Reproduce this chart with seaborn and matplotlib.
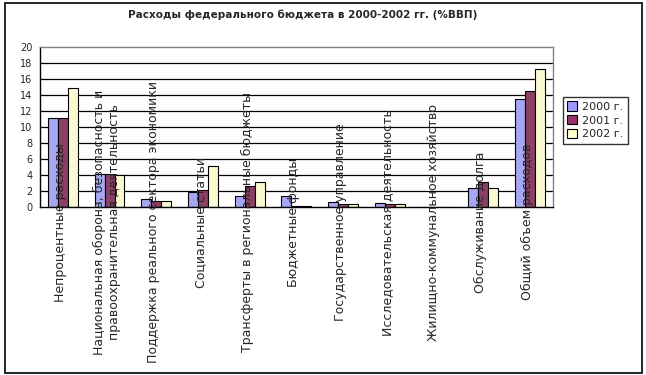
import pandas as pd
import seaborn as sns
import matplotlib.pyplot as plt
from matplotlib.patches import Rectangle

categories = [
    "Непроцентные расходы",
    "Национальная оборона, безопасность и\nправоохранительная деятельность",
    "Поддержка реального сектора экономики",
    "Социальные статьи",
    "Трансферты в региональные бюджеты",
    "Бюджетные фонды",
    "Государственное управление",
    "Исследовательская деятельность",
    "Жилищно-коммунальное хозяйство",
    "Обслуживание долга",
    "Общий объем расходов",
]
years = ["2000 г.", "2001 г.", "2002 г."]
v2000 = [11.1, 4.1, 1.0, 1.9, 1.35, 1.35, 0.6, 0.5, 0.0, 2.4, 13.5]
v2001 = [11.1, 4.1, 0.8, 2.1, 2.6, 0.1, 0.4, 0.4, 0.0, 3.1, 14.5]
v2002 = [14.9, 4.0, 0.8, 5.1, 3.1, 0.1, 0.4, 0.4, 0.0, 2.4, 17.3]
colors = ["#9999FF", "#993366", "#FFFFCC"]

df = pd.DataFrame({
    "cat": categories * 3,
    "year": [years[0]] * 11 + [years[1]] * 11 + [years[2]] * 11,
    "val": v2000 + v2001 + v2002,
})

sns.set_style("white")
plt.rcParams['font.family'] = ['DejaVu Sans']

fig = plt.figure(figsize=(6.46, 3.75), dpi=100)
ax = fig.add_axes([39.5 / 646, 1 - 207 / 375, (553 - 39.5) / 646, 160 / 375])

sns.barplot(data=df, x="cat", y="val", hue="year", palette=colors,
            width=0.64, edgecolor="black", linewidth=0.8, ax=ax, legend=True)

ax.set_ylim(0, 20)
ax.set_xlim(-0.5, 10.5)
ax.set_yticks(range(0, 21, 2))
for y in range(2, 20, 2):
    ax.axhline(y, color="black", linewidth=0.9, zorder=0)
ax.set_axisbelow(True)

for s in ["left", "bottom"]:
    ax.spines[s].set_color("black")
    ax.spines[s].set_linewidth(1.0)
for s in ["top", "right"]:
    ax.spines[s].set_color("#808080")
    ax.spines[s].set_linewidth(1.0)

ax.set_xlabel("")
ax.set_ylabel("")
ax.set_xticks([i + 0.5 for i in range(-1, 11)], minor=True)
ax.set_xticks([])
ax.tick_params(axis="x", which="minor", direction="out", length=3, color="black")
ax.tick_params(axis="y", direction="out", length=3, color="black", labelsize=7, pad=2)

# подписи категорий: повернуты и центрированы чуть ниже оси, как в Excel
for i, c in enumerate(categories):
    ax.text(i - 0.05, -1.9, c, rotation=90, ha="center", va="center", fontsize=9,
            clip_on=False, linespacing=1.25)

ax.get_legend().remove()
handles = [plt.Rectangle((0, 0), 1, 1, facecolor=c, edgecolor="black", linewidth=0.8) for c in colors]
fig.legend(handles, years, loc="upper left", bbox_to_anchor=(563 / 646, 1 - 97 / 375),
           frameon=True, fancybox=False, edgecolor="black", fontsize=8,
           handlelength=0.9, handleheight=0.9, handletextpad=0.4,
           borderpad=0.4, labelspacing=0.3, borderaxespad=0)

fig.text(303 / 646, 1 - 15 / 375, "Расходы федерального бюджета в 2000-2002 гг. (%ВВП)",
         ha="center", va="center", fontsize=7.5, fontweight="bold")

fig.patches.append(Rectangle((5 / 646, 2 / 375), 637 / 646, 370 / 375, transform=fig.transFigure,
                             fill=False, edgecolor="black", linewidth=1.2))

fig.savefig("out.png", dpi=100)
